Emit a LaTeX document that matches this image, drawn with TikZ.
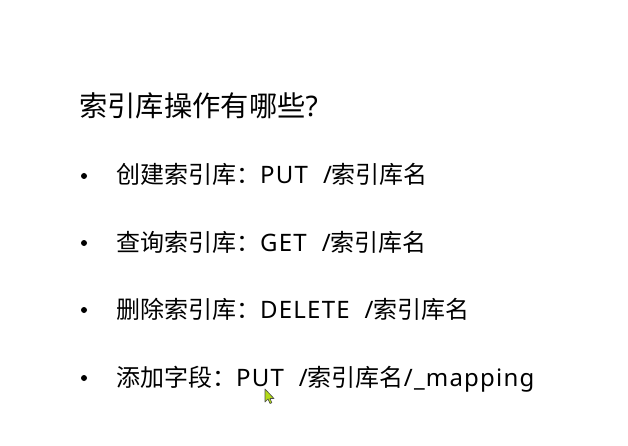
\documentclass[tikz,border=0pt]{standalone}
\usepackage{fontspec}
\setmainfont{Noto Sans CJK SC}
\newfontfamily\lat[LetterSpace=5]{Noto Sans}
\newcommand{\wsp}{\hspace{15pt}}
\begin{document}
\begin{tikzpicture}[x=1pt,y=-1pt,
  title/.style={anchor=base west,inner sep=0pt,font=\fontsize{28.3}{32}\selectfont},
  item/.style={anchor=base west,inner sep=0pt,font=\fontsize{24}{28}\selectfont},
  dot/.style={circle,fill=black,inner sep=0pt,minimum size=6pt}]
\useasboundingbox[fill=white] (0,0) rectangle (628,446);
\node[title] (t) at (79,117) {索引库操作有哪些{\lat ?}};
\node[item] (i1) at (116,184) {创建索引库：{\lat PUT\wsp/}索引库名};
\node[item] (i2) at (116,251) {查询索引库：{\lat GET\wsp/}索引库名};
\node[item] (i3) at (116,318) {删除索引库：{\lat DELETE\wsp/}索引库名};
\node[item] (i4) at (116,386) {添加字段：{\lat PUT\wsp/}索引库名{\lat /\_mapping}};
\node[dot] (b1) at (84,176) {};
\node[dot] (b2) at (84,243) {};
\node[dot] (b3) at (84,310) {};
\node[dot] (b4) at (84,378) {};
\draw[fill=yellow!70!green,draw=black!70,line width=0.6pt,line join=round]
  (265,389) -- (265,402) -- (268,399) -- (270,403.5) -- (271.8,402.7) -- (270,398.5) -- (274,398.5) -- cycle;
\end{tikzpicture}
\end{document}
